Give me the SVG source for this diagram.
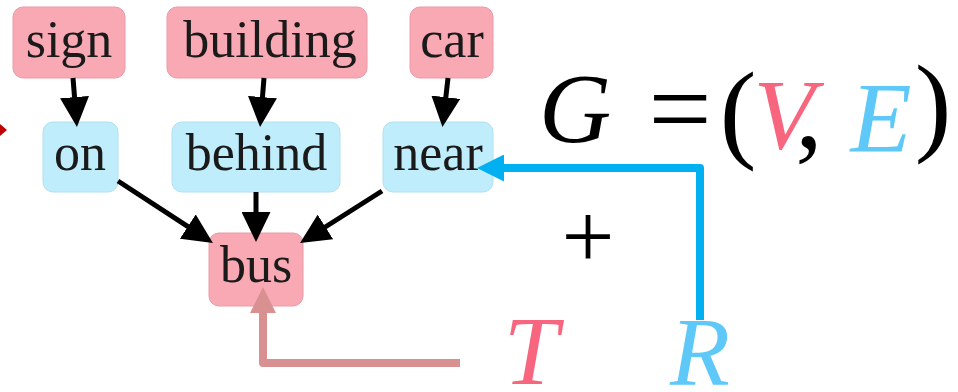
<svg xmlns="http://www.w3.org/2000/svg" width="958" height="392" viewBox="0 0 958 392">
<style>
.v{fill:#f9a9b4;stroke:#eb9aa6;stroke-width:1}
.e{fill:#bfedfb;stroke:#b0e0ef;stroke-width:1}
.lbl{font-size:52px;fill:#1a1a1a;text-anchor:middle}
.m{text-anchor:middle}
.mi{font-style:italic}
.blk{stroke:#000;stroke-width:5;fill:none}
</style>
<defs>
<marker id="ah" markerUnits="userSpaceOnUse" viewBox="0 0 30 29" markerWidth="30" markerHeight="29" refX="2" refY="14.5" orient="auto">
<path d="M0,0 L30,14.5 L0,29 z" fill="#000"/>
</marker>
<marker id="ahT" markerUnits="userSpaceOnUse" viewBox="0 0 26 26" markerWidth="26" markerHeight="26" refX="1" refY="13" orient="auto">
<path d="M0,0 L26,13 L0,26 z" fill="#d99090"/>
</marker>
<marker id="ahR" markerUnits="userSpaceOnUse" viewBox="0 0 27 27" markerWidth="27" markerHeight="27" refX="1" refY="13.5" orient="auto">
<path d="M0,0 L27,13.5 L0,27 z" fill="#00b0f0"/>
</marker>
</defs>
<rect width="958" height="392" fill="#fff"/>
<g id="node-sign"><rect class="v" x="13" y="7" width="112" height="71" rx="10"/><text class="lbl" style="font-family:'Liberation Serif', serif" x="69" y="57">sign</text></g>
<g id="node-building"><rect class="v" x="167" y="7" width="200" height="71" rx="10"/><text class="lbl" style="font-family:'Liberation Serif', serif" x="270" y="57">building</text></g>
<g id="node-car"><rect class="v" x="410" y="7" width="83" height="71" rx="10"/><text class="lbl" style="font-family:'Liberation Serif', serif" x="452" y="57">car</text></g>
<g id="node-on"><rect class="e" x="43" y="122" width="75" height="70" rx="10"/><text class="lbl" style="font-family:'Liberation Serif', serif" x="80" y="170">on</text></g>
<g id="node-behind"><rect class="e" x="172" y="122" width="168" height="70" rx="10"/><text class="lbl" style="font-family:'Liberation Serif', serif" x="256.5" y="170">behind</text></g>
<g id="node-near"><rect class="e" x="383" y="122" width="110" height="70" rx="10"/><text class="lbl" style="font-family:'Liberation Serif', serif" x="438" y="170">near</text></g>
<g id="node-bus"><rect class="v" x="209" y="233" width="94" height="73" rx="10"/><text class="lbl" style="font-family:'Liberation Serif', serif" x="256" y="282">bus</text></g>
<g id="connectors">
<line class="blk" x1="73" y1="78" x2="74.7" y2="99.1" marker-end="url(#ah)"/>
<line class="blk" x1="264" y1="78" x2="262.3" y2="99.1" marker-end="url(#ah)"/>
<line class="blk" x1="448" y1="78" x2="445.6" y2="99.2" marker-end="url(#ah)"/>
<line class="blk" x1="118" y1="181" x2="189.5" y2="227.7" marker-end="url(#ah)"/>
<line class="blk" x1="256" y1="192" x2="256" y2="214" marker-end="url(#ah)"/>
<line class="blk" x1="382" y1="191" x2="323.7" y2="228" marker-end="url(#ah)"/>
<path d="M460,363 H263 V312" fill="none" stroke="#d99090" stroke-width="8" stroke-linejoin="round" marker-end="url(#ahT)"/>
<path d="M700,320 V168 H503" fill="none" stroke="#00b0f0" stroke-width="8" stroke-linejoin="round" marker-end="url(#ahR)"/>
<polygon points="0,124 7,130 0,136" fill="#c00000"/>
</g>
<g id="formula">
<text class="m mi" style="font-family:'Liberation Serif', serif" x="575" y="142" font-size="100" fill="#000">G</text>
<text class="m" style="font-family:'Liberation Serif', serif" x="680" y="146" font-size="112" fill="#000">=</text>
<text class="m" style="font-family:'Liberation Serif', serif" x="738" y="148" font-size="110" fill="#000">(</text>
<text class="m mi" style="font-family:'Liberation Serif', serif" x="784" y="148" font-size="100" fill="#f7667e">V</text>
<text class="m" style="font-family:'Liberation Serif', serif" x="809" y="147" font-size="110" fill="#000">,</text>
<text class="m mi" style="font-family:'Liberation Serif', serif" x="881" y="151" font-size="100" fill="#5ec8f8">E</text>
<text class="m" style="font-family:'Liberation Serif', serif" x="933" y="141" font-size="110" fill="#000">)</text>
<text class="m" style="font-family:'Liberation Serif', serif" x="588" y="268" font-size="94" fill="#000">+</text>
<text class="m mi" style="font-family:'Liberation Serif', serif" x="531" y="384" font-size="98" fill="#f7667e">T</text>
<text class="m mi" style="font-family:'Liberation Serif', serif" x="700" y="385" font-size="98" fill="#5ec8f8">R</text>
</g>
</svg>
